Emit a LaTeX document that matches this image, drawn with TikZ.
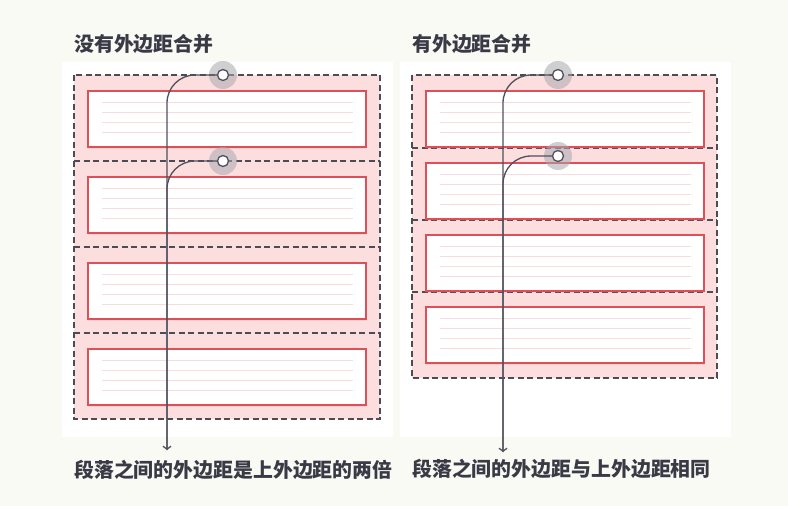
\documentclass[tikz,border=0pt]{standalone}
\usepackage{fontspec}
\setmainfont{Noto Sans CJK SC}
\usetikzlibrary{arrows.meta,shadows}
\definecolor{bgpaper}{HTML}{FAFAF5}
\definecolor{marginpink}{HTML}{FDDEDF}
\definecolor{parared}{HTML}{DE4F58}
\definecolor{textline}{HTML}{F9DCE0}
\definecolor{dashgray}{HTML}{4C4C54}
\definecolor{linkgray}{HTML}{50505F}
\definecolor{halogray}{HTML}{A8A8AE}
\definecolor{textgray}{HTML}{3A3A46}
\tikzset{
  >={Straight Barb[length=3pt,width=8pt]},
}
\tikzstyle{margin}=[fill=marginpink,draw=dashgray,line width=1.2pt,dash pattern=on 6pt off 3.5pt]
\tikzstyle{sep}=[draw=dashgray,line width=1.2pt,dash pattern=on 6pt off 3.5pt]
\tikzstyle{para}=[draw=parared,fill=white,line width=1.3pt,minimum width=278pt,minimum height=56pt,inner sep=0pt,drop shadow={opacity=.12,shadow xshift=0pt,shadow yshift=-2pt}]
\tikzstyle{tline}=[draw=textline,line width=1.7pt]
\tikzstyle{halo}=[circle,fill=halogray,opacity=.55,minimum size=28pt,inner sep=0pt]
\tikzstyle{dot}=[circle,draw=linkgray,fill=white,line width=1.3pt,minimum size=11pt,inner sep=0pt]
\tikzstyle{link}=[line width=1.3pt,draw=linkgray,rounded corners=28pt]
\tikzstyle{label}=[font=\fontsize{19.9}{23}\selectfont\bfseries,text=textgray,anchor=west,inner sep=0pt]

\begin{document}
\begin{tikzpicture}[x=1pt,y=-1pt]
    \fill[bgpaper] (0,0) rectangle (788,506);
    \useasboundingbox (0,0) rectangle (788,506);
    \fill[white] (62,62) rectangle (393,437);
    \fill[white] (400,62) rectangle (731,437);
    % left: margins add up
    \draw[margin] (74,75) rectangle (380,419);
    \foreach \y in {161,247,333}
      \draw[sep] (74,\y) -- (380,\y);
    \foreach \i in {0,...,3} {
      \node[para] (pl\i) at (227,{119+86*\i}) {};
      \foreach \k in {12,22,32,42}
        \draw[tline] ([shift={(15pt,-\k pt)}]pl\i.north west) -- ([shift={(-14pt,-\k pt)}]pl\i.north east);
    }
    % right: margins collapse
    \draw[margin] (412,75) rectangle (717,378);
    \foreach \y in {148,220,292}
      \draw[sep] (412,\y) -- (717,\y);
    \foreach \i in {0,...,3} {
      \node[para] (pr\i) at (565,{119+72*\i}) {};
      \foreach \k in {12,22,32,42}
        \draw[tline] ([shift={(15pt,-\k pt)}]pr\i.north west) -- ([shift={(-14pt,-\k pt)}]pr\i.north east);
    }
    \node[halo] (hl1) at (223,75) {};
    \node[halo] (hl2) at (223,161) {};
    \node[halo] (hr1) at (558,75) {};
    \node[halo] (hr2) at (558,156) {};
    \coordinate (endL) at (167,450);
    \coordinate (endR) at (503,452);
    \draw[link,->] (hl1.center) -| (endL);
    \draw[link] (hl2.center) -| (endL);
    \draw[link,->] (hr1.center) -| (endR);
    \draw[link] (hr2.center) -| (endR);
    \node[dot] (dl1) at (hl1) {};
    \node[dot] (dl2) at (hl2) {};
    \node[dot] (dr1) at (hr1) {};
    \node[dot] (dr2) at (hr2) {};
    \node[label] (titleL) at (74,44) {没有外边距合并};
    \node[label] (titleR) at (412,44) {有外边距合并};
    \node[label] (noteL) at (74,470) {段落之间的外边距是上外边距的两倍};
    \node[label] (noteR) at (412,469) {段落之间的外边距与上外边距相同};
  \end{tikzpicture}
\end{document}
